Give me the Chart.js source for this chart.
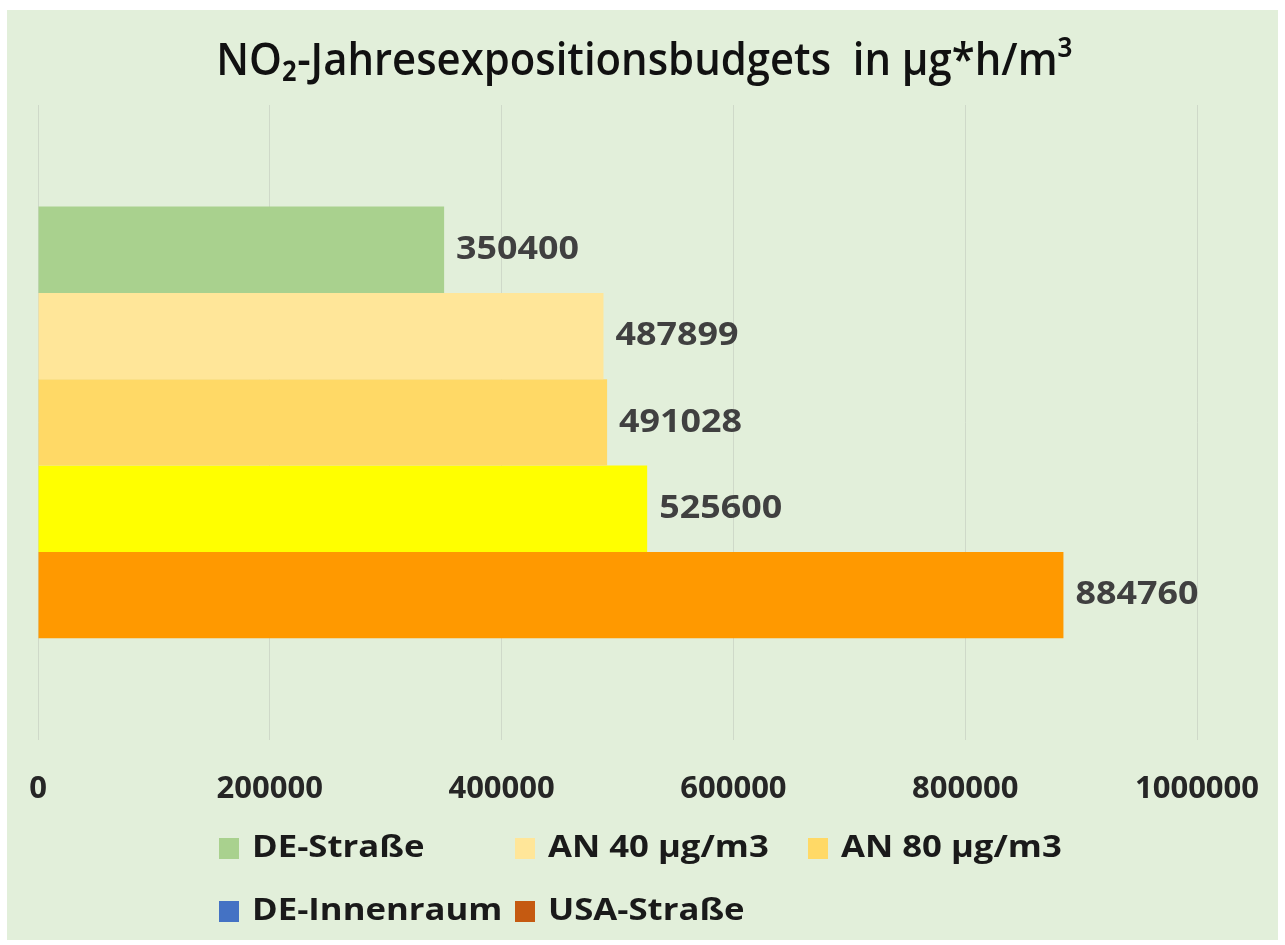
<!DOCTYPE html>
<html>
<head>
<meta charset="utf-8">
<script src="https://cdn.jsdelivr.net/npm/chart.js@4.4.1/dist/chart.umd.min.js"></script>
<style>
  html, body { margin: 0; padding: 0; background: #fff; }
  #wrap { width: 1285px; height: 945px; }
</style>
</head>
<body>
<div id="wrap"><canvas id="chart" width="1285" height="945"></canvas></div>
<script>
// data
const seriesNames = ['DE-Straße', 'AN 40 µg/m3', 'AN 80 µg/m3', 'DE-Innenraum', 'USA-Straße'];
const seriesValues = [350400, 487899, 491028, 525600, 884760];
const barColors = ['#a9d18e', '#ffe699', '#ffd966', '#ffff00', '#ff9900'];
const legendColors = ['#a9d18e', '#ffe699', '#ffd966', '#4472c4', '#c55a11'];
const xTicks = [0, 200000, 400000, 600000, 800000, 1000000];
const titleText = 'NO₂-Jahresexpositionsbudgets  in µg*h/m³';

const FONT = "'Open Sans', 'DejaVu Sans', sans-serif";

// draw text squeezed/stretched sideways, the source font is narrower than Open Sans
function drawScaled(ctx, text, x, y, sx) {
  ctx.save();
  ctx.translate(x, y);
  ctx.scale(sx, 1);
  ctx.fillText(text, 0, 0);
  ctx.restore();
}

// green panel behind the chart, white margin round it
const panelBg = {
  id: 'panelBg',
  beforeDraw(chart) {
    const ctx = chart.ctx;
    ctx.save();
    ctx.fillStyle = '#ffffff';
    ctx.fillRect(0, 0, chart.width, chart.height);
    ctx.fillStyle = '#e2efda';
    ctx.fillRect(7, 10, chart.width - 14, chart.height - 15);
    ctx.restore();
  }
};

// title centred on the whole picture, not on the plot area
const pageTitle = {
  id: 'pageTitle',
  afterDraw(chart) {
    const ctx = chart.ctx;
    ctx.save();
    ctx.font = '600 45px ' + FONT;
    ctx.fillStyle = '#111111';
    ctx.textBaseline = 'middle';
    ctx.textAlign = 'center';
    drawScaled(ctx, titleText, chart.width / 2 + 2, 62, 0.93);
    ctx.restore();
  }
};

// value next to the end of every bar
const valueLabels = {
  id: 'valueLabels',
  afterDatasetsDraw(chart) {
    const ctx = chart.ctx;
    ctx.save();
    ctx.font = 'bold 32px ' + FONT;
    ctx.fillStyle = '#404040';
    ctx.textBaseline = 'middle';
    ctx.textAlign = 'left';
    chart.data.datasets.forEach((ds, i) => {
      const bar = chart.getDatasetMeta(i).data[0];
      drawScaled(ctx, String(ds.data[0]), bar.x + 12, bar.y, 1.12);
    });
    ctx.restore();
  }
};

// legend laid out on a grid like the Excel original
// (the last two swatches do not match their bars in the source either)
const gridLegend = {
  id: 'gridLegend',
  afterDraw(chart) {
    const ctx = chart.ctx;
    const colX = [219, 515, 808];
    const rowY = [848, 911];
    ctx.save();
    ctx.font = 'bold 31px ' + FONT;
    ctx.textBaseline = 'middle';
    seriesNames.forEach((name, i) => {
      const x = colX[i % 3];
      const y = rowY[Math.floor(i / 3)];
      ctx.fillStyle = legendColors[i];
      ctx.fillRect(x, y - 10, 20, 21);
      ctx.fillStyle = '#1a1a1a';
      drawScaled(ctx, name, x + 33, y, 1.12);
    });
    ctx.restore();
  }
};

new Chart(document.getElementById('chart'), {
  type: 'bar',
  data: {
    labels: [''],
    datasets: seriesNames.map((name, i) => ({
      label: name,
      data: [seriesValues[i]],
      backgroundColor: barColors[i],
      borderWidth: 0,
      categoryPercentage: 0.68,
      barPercentage: 1.0
    }))
  },
  options: {
    indexAxis: 'y',
    responsive: false,
    animation: false,
    layout: { padding: { top: 105, left: 38, right: 88, bottom: 135 } },
    scales: {
      x: {
        min: 0,
        max: 1000000,
        afterBuildTicks: (axis) => { axis.ticks = xTicks.map((v) => ({ value: v })); },
        ticks: {
          padding: 2,
          color: '#262626',
          font: { family: FONT, size: 31, weight: 'bold' },
          callback: (v) => String(v)
        },
        // invisible tick marks push the labels down without widening the side padding
        grid: { color: '#cfd9c9', lineWidth: 1, drawTicks: true, tickLength: 29, tickColor: 'rgba(0,0,0,0)' },
        border: { display: false }
      },
      y: { display: false }
    },
    plugins: {
      legend: { display: false },
      tooltip: { enabled: false },
      title: { display: false }
    }
  },
  plugins: [panelBg, pageTitle, valueLabels, gridLegend]
});
</script>
</body>
</html>
